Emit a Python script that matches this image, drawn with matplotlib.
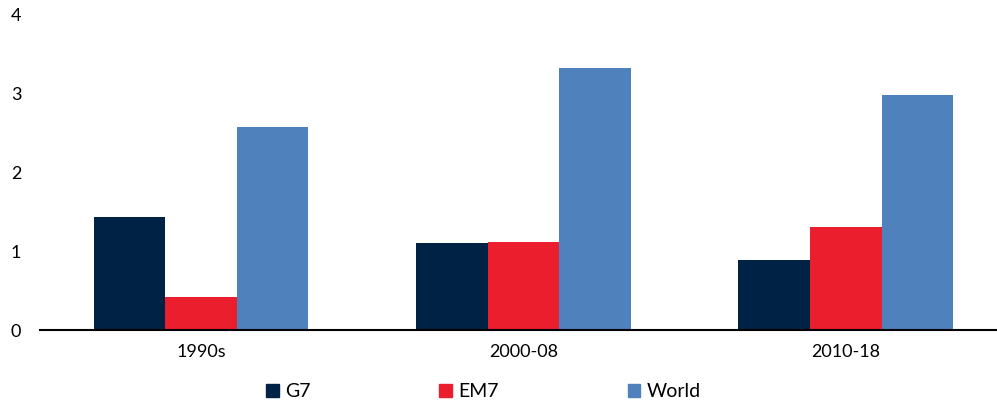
import numpy as np
import matplotlib.pyplot as plt
from matplotlib.patches import Patch

plt.rcParams['font.family'] = ['Lato', 'DejaVu Sans']

categories = ["1990s", "2000-08", "2010-18"]
g7 = [1.43, 1.10, 0.89]
em7 = [0.42, 1.12, 1.31]
world = [2.58, 3.33, 2.98]

colors = ["#002244", "#EB1E2D", "#4F81BD"]
names = ["G7", "EM7", "World"]

fig = plt.figure(figsize=(9.97, 4.03), dpi=100)
ax = fig.add_axes([0.040, 0.181, 0.970, 0.782])

x = np.arange(len(categories))
w = 0.222
for i, (vals, c) in enumerate(zip([g7, em7, world], colors)):
    ax.bar(x + (i - 1) * w, vals, width=w, color=c, label=names[i])

ax.set_xlim(-0.5, 2.5)
ax.set_ylim(0, 4)
ax.set_yticks([0, 1, 2, 3, 4])
ax.set_xticks(x)
ax.set_xticklabels(categories)
ax.tick_params(axis='both', length=0, labelsize=13)
ax.tick_params(axis='y', pad=21)
ax.tick_params(axis='x', pad=10)
for lab in ax.get_yticklabels():
    lab.set_horizontalalignment('left')
for s in ['top', 'right', 'left']:
    ax.spines[s].set_visible(False)
ax.spines['bottom'].set_linewidth(1.5)

handles = [Patch(color=c) for c in colors]
fig.legend(handles, names, loc='center', bbox_to_anchor=(0.485, 0.028), ncol=3,
           frameon=False, fontsize=14, handlelength=0.65, handleheight=0.65,
           handletextpad=0.35, columnspacing=6.6)

fig.savefig("out.png", dpi=100)
